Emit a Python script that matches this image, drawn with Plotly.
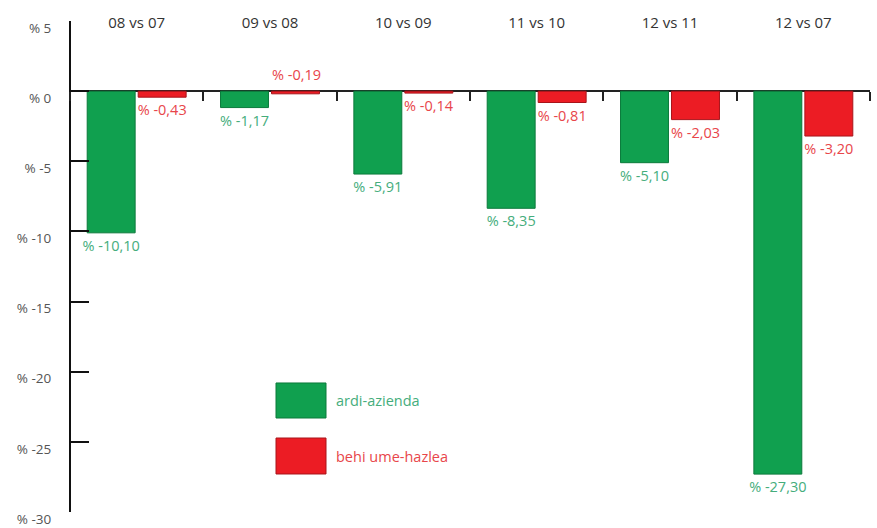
import plotly.graph_objects as go

categories = ["08 vs 07", "09 vs 08", "10 vs 09", "11 vs 10", "12 vs 11", "12 vs 07"]
series_names = ["ardi-azienda", "behi ume-hazlea"]
green_values = [-10.10, -1.17, -5.91, -8.35, -5.10, -27.30]
red_values = [-0.43, -0.19, -0.14, -0.81, -2.03, -3.20]
y_tick_values = [5, 0, -5, -10, -15, -20, -25, -30]
y_tick_labels = ["% 5", "% 0", "% -5", "% -10", "% -15", "% -20", "% -25", "% -30"]

GREEN = "#10a04f"
GREEN_TXT = "#45ad7c"
RED = "#ec1c24"
RED_TXT = "#e8464a"
FONT = "Open Sans"
LBL = 14.5


def fmt(v):
    return ("% " + f"{v:.2f}").replace(".", ",")


# red label shown above the baseline instead of below
red_above = [False, True, False, False, False, False]

fig = go.Figure()
fig.add_trace(go.Bar(
    x=categories, y=green_values, name=series_names[0],
    marker=dict(color=GREEN, line=dict(color="#0b7a3b", width=1)),
    text=[fmt(v) for v in green_values], textposition="outside",
    textfont=dict(color=GREEN_TXT, size=LBL, family=FONT),
    constraintext="none", cliponaxis=False, showlegend=False,
))
fig.add_trace(go.Bar(
    x=categories, y=red_values, name=series_names[1],
    marker=dict(color=RED, line=dict(color="#a8141a", width=1)),
    text=[("" if a else fmt(v)) for v, a in zip(red_values, red_above)],
    textposition="outside",
    textfont=dict(color=RED_TXT, size=LBL, family=FONT),
    constraintext="none", cliponaxis=False, showlegend=False,
))
# helper trace for the boundary ticks axis
fig.add_trace(go.Scatter(x=categories, y=green_values, mode="none", xaxis="x2",
                         showlegend=False, hoverinfo="skip"))

for c, v, a in zip(categories, red_values, red_above):
    if a:
        fig.add_annotation(x=c, y=0, xref="x", yref="y", text=fmt(v), showarrow=False,
                           xshift=26, yshift=5, yanchor="bottom",
                           font=dict(color=RED_TXT, size=LBL, family=FONT))

# legend boxes
fig.add_shape(type="rect", xref="paper", yref="paper", x0=0.2575, x1=0.32, y0=0.1865, y1=0.256,
              fillcolor=GREEN, line=dict(color="#0b7a3b", width=1))
fig.add_shape(type="rect", xref="paper", yref="paper", x0=0.2575, x1=0.32, y0=0.0754, y1=0.1468,
              fillcolor=RED, line=dict(color="#a8141a", width=1))
fig.add_annotation(xref="paper", yref="paper", x=0.3305, y=0.221, text=series_names[0],
                   showarrow=False, xanchor="left", yanchor="middle",
                   font=dict(color=GREEN_TXT, size=LBL, family=FONT))
fig.add_annotation(xref="paper", yref="paper", x=0.3305, y=0.111, text=series_names[1],
                   showarrow=False, xanchor="left", yanchor="middle",
                   font=dict(color=RED_TXT, size=LBL, family=FONT))

fig.update_layout(
    width=877, height=528,
    margin=dict(l=70, r=7, t=8, b=16, autoexpand=False),
    paper_bgcolor="white", plot_bgcolor="white",
    barmode="group", bargap=0.235, bargroupgap=0.06,
    font=dict(family=FONT, size=13.5, color="#444"),
    xaxis=dict(side="top", anchor="free", position=0.955, showline=False, ticks="",
               showgrid=False, zeroline=False, automargin=False,
               tickfont=dict(color="#333", size=15)),
    xaxis2=dict(overlaying="x", matches="x", anchor="free", position=30 / 35 * 0.9742,
                side="bottom", showline=False, ticks="outside", tickson="boundaries",
                ticklen=9, tickwidth=2, tickcolor="#222", showticklabels=False,
                showgrid=False, zeroline=False, automargin=False),
    yaxis=dict(domain=[0, 0.9742], range=[-30, 5], anchor="free", position=0,
               tickvals=y_tick_values, ticktext=y_tick_labels,
               showline=True, linecolor="#111", linewidth=2,
               ticks="inside", ticklen=18, tickwidth=2, tickcolor="#111",
               ticklabelstandoff=15, ticklabelshift=7, automargin=False,
               showgrid=False, zeroline=True, zerolinecolor="#222", zerolinewidth=2,
               tickfont=dict(color="#555", size=13.5)),
)

fig.write_html("out.html", config={"displayModeBar": False},
               post_script="document.body.style.margin='0';document.body.style.overflow='hidden';")
